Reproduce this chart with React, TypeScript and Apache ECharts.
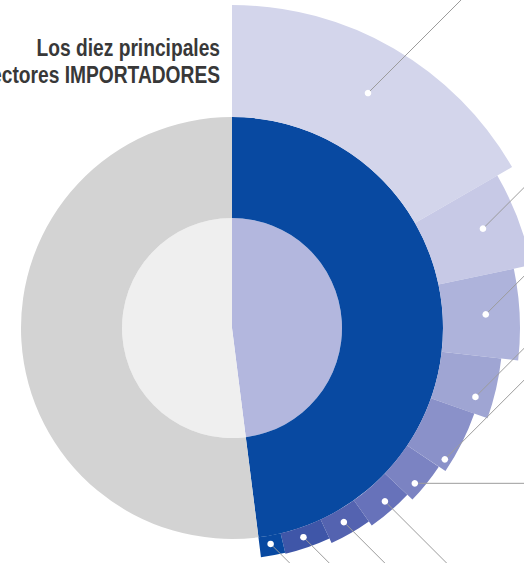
import React, { useEffect, useRef } from 'react';
import * as echarts from 'echarts';

// ---- data ----
const TITLE_LINES = ['Los diez principales', 'sectores IMPORTADORES'];
// share of total imports (%) of each of the ten leading sectors -> angular width
const SECTOR_SHARES = [16.7, 5.0, 5.1, 3.6, 4.0, 2.7, 3.1, 2.9, 3.2, 1.7];
// radial reach of each sector petal (radius-axis units)
const SECTOR_REACH = [323, 306, 288, 271, 257, 249, 242, 237, 232, 231];

// ---- layout / style ----
const W = 524;
const H = 563;
const CENTER = [232, 328];
const R_MAX = 330;
const DISC_R = 110;
const RING_OUTER = 211;
const BLUE = '#0849a1';
const GRAY = '#d3d3d3';
const DISC_GRAY = '#efefef';
const DISC_LAV = '#b3b7de';
const PETAL_COLORS = [
  '#d3d5eb', '#c7c9e6', '#aeb3db', '#9fa5d3', '#8a91c9',
  '#7b83c2', '#6772ba', '#5463b0', '#3f56a8', '#0849a1',
];
// where the label anchor dot sits inside each petal (fraction of its angle / of its thickness)
const DOT_ANGLE_FRAC = [0.5, 0.46, 0.48, 0.72, 0.85, 0.67, 0.45, 0.51, 0.52, 0.52];
const DOT_RADIUS_FRAC = [0.54, 0.62, 0.56, 0.7, 0.85, 0.76, 0.65, 0.5, 0.48, 0.42];
const LEADER_DIRS = [-45, -45, -45, -45, -45, 0, 45, 45, 45, 45];

export default function App() {
  const ref = useRef<HTMLDivElement>(null);

  useEffect(() => {
    if (!ref.current) return;
    const chart = echarts.init(ref.current, undefined, { renderer: 'svg' });

    const top10 = SECTOR_SHARES.reduce((a, b) => a + b, 0);
    const starts: number[] = [];
    let acc = 0;
    SECTOR_SHARES.forEach((s) => {
      starts.push(acc);
      acc += s;
    });
    const petalData = SECTOR_SHARES.map((s, i) => [starts[i], starts[i] + s, SECTOR_REACH[i]]);
    const dotData = SECTOR_SHARES.map((s, i) => [
      RING_OUTER + DOT_RADIUS_FRAC[i] * (SECTOR_REACH[i] - RING_OUTER),
      starts[i] + DOT_ANGLE_FRAC[i] * s,
    ]);

    const option: any = {
      animation: false,
      backgroundColor: '#ffffff',
      polar: { center: CENTER, radius: R_MAX },
      angleAxis: {
        type: 'value', min: 0, max: 100, startAngle: 90, clockwise: true, show: false,
      },
      radiusAxis: { type: 'value', min: 0, max: R_MAX, show: false },
      graphic: [
        {
          type: 'text',
          x: 220,
          y: 34,
          scaleX: 0.835,
          z: 100,
          style: {
            text: TITLE_LINES.join('\n'),
            align: 'right',
            verticalAlign: 'top',
            lineHeight: 27,
            fill: '#383838',
            font: 'bold 23px "Liberation Sans", Arial, sans-serif',
          },
        },
      ],
      series: [
        {
          type: 'pie',
          silent: true,
          center: CENTER,
          radius: [0, DISC_R],
          startAngle: 90,
          clockwise: true,
          label: { show: false },
          labelLine: { show: false },
          itemStyle: { borderWidth: 0 },
          data: [
            { value: top10, itemStyle: { color: DISC_LAV } },
            { value: 100 - top10, itemStyle: { color: DISC_GRAY } },
          ],
        },
        {
          type: 'pie',
          silent: true,
          center: CENTER,
          radius: [DISC_R, RING_OUTER],
          startAngle: 90,
          clockwise: true,
          label: { show: false },
          labelLine: { show: false },
          itemStyle: { borderWidth: 0 },
          data: [
            { value: top10, itemStyle: { color: BLUE } },
            { value: 100 - top10, itemStyle: { color: GRAY } },
          ],
        },
        {
          type: 'custom',
          coordinateSystem: 'polar',
          silent: true,
          z: 3,
          data: petalData,
          renderItem: (params: any, api: any) => {
            const cs = params.coordSys;
            const cx = cs.cx;
            const cy = cs.cy;
            const a0 = api.value(0);
            const a1 = api.value(1);
            const rOut = api.value(2);
            const pIn = api.coord([RING_OUTER, a0]);
            const pOut0 = api.coord([rOut, a0]);
            const pOut1 = api.coord([rOut, a1]);
            const ang = (p: number[]) => Math.atan2(p[1] - cy, p[0] - cx);
            const dist = (p: number[]) => Math.hypot(p[0] - cx, p[1] - cy);
            const s = ang(pOut0);
            let e = ang(pOut1);
            if (e <= s) e += Math.PI * 2;
            return {
              type: 'sector',
              shape: {
                cx, cy, r0: dist(pIn), r: dist(pOut0), startAngle: s, endAngle: e, clockwise: true,
              },
              style: { fill: PETAL_COLORS[params.dataIndex] },
            };
          },
        },
        {
          type: 'custom',
          coordinateSystem: 'polar',
          silent: true,
          z: 5,
          data: dotData,
          renderItem: (params: any, api: any) => {
            const p = api.coord([api.value(0), api.value(1)]);
            const deg = (LEADER_DIRS[params.dataIndex] * Math.PI) / 180;
            const L = 400;
            return {
              type: 'group',
              children: [
                {
                  type: 'line',
                  shape: { x1: p[0], y1: p[1], x2: p[0] + L * Math.cos(deg), y2: p[1] + L * Math.sin(deg) },
                  style: { stroke: '#9c9c9c', lineWidth: 1 },
                },
                {
                  type: 'circle',
                  shape: { cx: p[0], cy: p[1], r: 3.3 },
                  style: { fill: '#ffffff' },
                },
              ],
            };
          },
        },
      ],
    };

    chart.setOption(option);
    return () => chart.dispose();
  }, []);

  return (
    <div
      ref={ref}
      style={{ position: 'fixed', left: 0, top: 0, width: W, height: H }}
    />
  );
}
